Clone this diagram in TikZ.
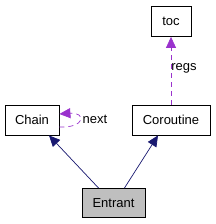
\documentclass[tikz,border=0pt]{standalone}
\usepackage{fontspec}
\setmainfont{Liberation Sans}
\usetikzlibrary{arrows.meta,calc}
\definecolor{inheritblue}{RGB}{25,25,112}
\definecolor{usagepurple}{RGB}{154,50,205}

\tikzset{
  classbox/.style={draw,line width=0.8pt,minimum height=30pt,inner sep=0pt,font=\fontsize{13}{15}\selectfont},
  inherit/.style={inheritblue,line width=0.7pt,-{Triangle[length=11pt,width=10pt]}},
  usage/.style={usagepurple,line width=0.7pt,dash pattern=on 5pt off 4pt,-{Triangle[length=11pt,width=10pt]}},
  edgelabel/.style={font=\fontsize{13}{15}\selectfont}
}

\begin{document}
\begin{tikzpicture}[x=1pt,y=-1pt]
  \useasboundingbox (0,0) rectangle (215,224);
  % classes
  \node[classbox,minimum width=40pt] (toc) at (171,21.5) {toc};
  \node[classbox,minimum width=54pt] (Chain) at (32,120) {Chain};
  \node[classbox,minimum width=78pt] (Coroutine) at (171,120) {Coroutine};
  \node[classbox,minimum width=63pt,minimum height=29pt,fill=black!25] (Entrant) at (113.5,203) {Entrant};
  % inheritance
  \draw[inherit] ($(Entrant.north west)+(17,0)$) -- ($(Chain.south)+(17,0)$);
  \draw[inherit] ($(Entrant.north east)+(-21,0)$) -- ($(Coroutine.south)+(-13,0)$);
  % usage
  \draw[usage] (Coroutine.north) -- (toc.south);
  \node[edgelabel] (regslabel) at (184,68) {regs};
  \draw[usage] ($(Chain.east)+(0,7)$) .. controls (86,128) and (86,112) .. ($(Chain.east)+(0,-6)$);
  \node[edgelabel] (nextlabel) at (95,119) {next};
\end{tikzpicture}
\end{document}
